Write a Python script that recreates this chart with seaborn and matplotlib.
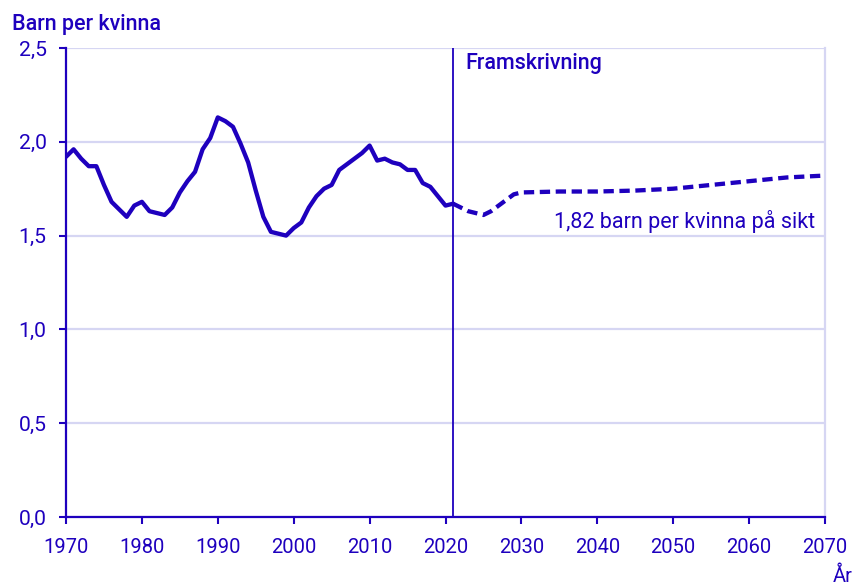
import matplotlib
matplotlib.use("Agg")
import matplotlib.pyplot as plt
import seaborn as sns
import pandas as pd

# Summerad fruktsamhet, utfall 1970-2021
years_hist = list(range(1970, 2022))
tfr_hist = [1.92, 1.96, 1.91, 1.87, 1.87, 1.77, 1.68, 1.64, 1.60, 1.66,
            1.68, 1.63, 1.62, 1.61, 1.65, 1.73, 1.79, 1.84, 1.96, 2.02,
            2.13, 2.11, 2.08, 1.99, 1.89, 1.74, 1.60, 1.52, 1.51, 1.50,
            1.54, 1.57, 1.65, 1.71, 1.75, 1.77, 1.85, 1.88, 1.91, 1.94,
            1.98, 1.90, 1.91, 1.89, 1.88, 1.85, 1.85, 1.78, 1.76, 1.71,
            1.66, 1.67]

# Framskrivning
years_proj = [2021, 2022, 2023, 2024, 2025, 2026, 2027, 2028, 2029, 2030,
              2035, 2040, 2045, 2050, 2055, 2060, 2065, 2070]
tfr_proj = [1.67, 1.65, 1.63, 1.62, 1.61, 1.63, 1.66, 1.69, 1.72, 1.73,
            1.735, 1.735, 1.74, 1.75, 1.77, 1.79, 1.81, 1.82]

x_ticks = list(range(1970, 2071, 10))
y_ticks = [0.0, 0.5, 1.0, 1.5, 2.0, 2.5]
y_labels = ["0,0", "0,5", "1,0", "1,5", "2,0", "2,5"]

hist = pd.DataFrame({"year": years_hist, "tfr": tfr_hist})
proj = pd.DataFrame({"year": years_proj, "tfr": tfr_proj})

blue = "#1E00BE"
grid = "#D6D6F3"

sns.set_theme(style="white")
plt.rcParams["font.family"] = ["Roboto", "DejaVu Sans"]

fig = plt.figure(figsize=(8.56, 5.85), dpi=100)
ax = fig.add_axes([66 / 856, 68 / 585, 759 / 856, 469 / 585])

sns.lineplot(data=hist, x="year", y="tfr", ax=ax, color=blue, lw=3.1)
sns.lineplot(data=proj, x="year", y="tfr", ax=ax, color=blue, lw=3.1,
             dashes=False, linestyle=(0, (2.4, 1.3)))

ax.axvline(2021, color=blue, lw=1.3, zorder=3)

ax.set_xlim(1970, 2070)
ax.set_ylim(0, 2.5)
ax.set_xticks(x_ticks)
ax.set_yticks(y_ticks)
ax.set_yticklabels(y_labels)
ax.set_xlabel("")
ax.set_ylabel("")

ax.yaxis.grid(True, color=grid, lw=1.6)
ax.set_axisbelow(True)
ax.spines["top"].set_visible(False)
ax.spines["right"].set_color(grid)
ax.spines["right"].set_linewidth(1.6)
for side in ["left", "bottom"]:
    ax.spines[side].set_color(blue)
    ax.spines[side].set_linewidth(1.6)

ax.tick_params(axis="both", colors=blue, length=5, width=1.5,
               direction="out", bottom=True, left=True)
ax.tick_params(axis="x", pad=10, labelsize=14.5)
ax.tick_params(axis="y", pad=9, labelsize=15.2)

ax.text(2022.6, 2.388, "Framskrivning", color=blue, fontsize=15.5,
        fontweight="medium", va="baseline", ha="left")
ax.text(2068.7, 1.539, "1,82 barn per kvinna på sikt", color=blue,
        fontsize=15.5, va="baseline", ha="right")

fig.text(12 / 856, (585 - 30) / 585, "Barn per kvinna", color=blue,
         fontsize=15.5, fontweight="medium", va="baseline", ha="left")
fig.text(853 / 856, 3 / 585, "År", color=blue, fontsize=14.5,
         va="baseline", ha="right")

fig.savefig("out.png", dpi=100)
plt.close(fig)
